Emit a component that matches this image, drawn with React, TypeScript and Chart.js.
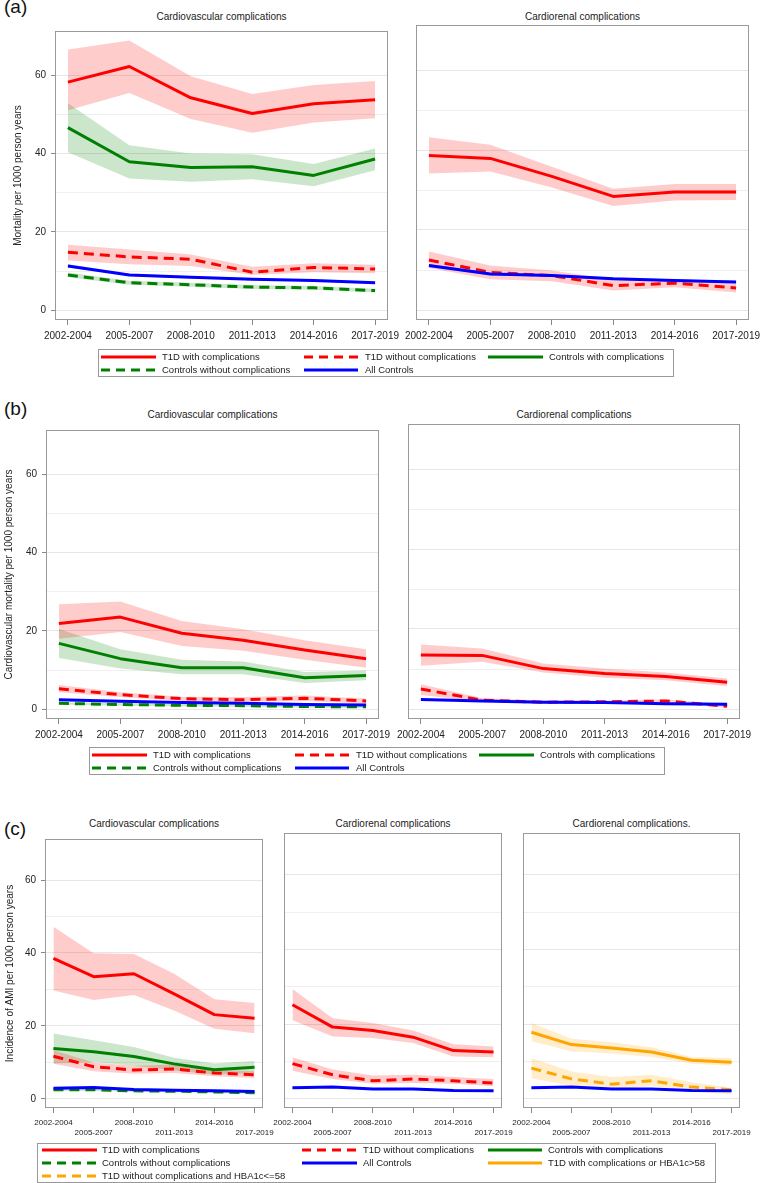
import React, { useEffect, useRef } from 'react';
import { Chart, registerables } from 'chart.js';

Chart.register(...registerables);

const FONT = "'Liberation Sans', Arial, Helvetica, sans-serif";

// ---------- categories & ticks ----------
const periods = ['2002-2004', '2005-2007', '2008-2010', '2011-2013', '2014-2016', '2017-2019'];
const yGridValues = [0, 10, 20, 30, 40, 50, 60];

// ---------- (a) Mortality, Cardiovascular ----------
const aCvT1dWith = [58.2, 62.2, 54.2, 50.2, 52.7, 53.7];
const aCvT1dWithHi = [66.5, 68.8, 59.7, 55.2, 57.5, 58.5];
const aCvT1dWithLo = [51.0, 55.4, 48.8, 45.3, 47.9, 49.0];
const aCvT1dWithout = [14.8, 13.6, 13.0, 9.7, 10.9, 10.5];
const aCvT1dWithoutHi = [16.7, 15.5, 14.2, 11.1, 12.0, 11.6];
const aCvT1dWithoutLo = [12.7, 11.7, 11.3, 9.0, 9.7, 9.4];
const aCvCtrlWith = [46.6, 37.9, 36.4, 36.6, 34.4, 38.6];
const aCvCtrlWithHi = [52.8, 42.1, 40.0, 39.8, 37.3, 41.3];
const aCvCtrlWithLo = [40.3, 33.6, 32.8, 33.4, 31.6, 35.7];
const aCvCtrlWithout = [9.0, 7.0, 6.5, 5.9, 5.7, 5.0];
const aCvCtrlWithoutHi = [9.6, 7.5, 7.0, 6.4, 6.2, 5.5];
const aCvCtrlWithoutLo = [8.4, 6.5, 6.0, 5.4, 5.2, 4.5];
const aCvAll = [11.3, 9.0, 8.4, 7.9, 7.6, 7.0];
const aCvAllHi = [11.7, 9.3, 8.7, 8.2, 7.9, 7.3];
const aCvAllLo = [10.9, 8.7, 8.1, 7.6, 7.3, 6.7];

// ---------- (a) Mortality, Cardiorenal ----------
const aCrT1dWith = [38.6, 37.9, 33.4, 28.4, 29.5, 29.5];
const aCrT1dWithHi = [43.2, 41.3, 35.8, 30.3, 31.5, 31.5];
const aCrT1dWithLo = [34.1, 34.6, 30.6, 26.0, 27.4, 27.5];
const aCrT1dWithout = [12.5, 9.4, 8.6, 6.1, 6.7, 5.5];
const aCrT1dWithoutHi = [14.6, 11.1, 9.9, 7.6, 7.7, 6.9];
const aCrT1dWithoutLo = [10.5, 7.7, 7.2, 4.9, 5.7, 4.4];
const aCrAll = [11.1, 9.0, 8.6, 7.8, 7.4, 7.0];
const aCrAllHi = [11.5, 9.3, 8.9, 8.1, 7.7, 7.3];
const aCrAllLo = [10.7, 8.7, 8.3, 7.5, 7.1, 6.7];

// ---------- (b) CV mortality, Cardiovascular ----------
const bCvT1dWith = [21.9, 23.5, 19.4, 17.6, 15.1, 12.9];
const bCvT1dWithHi = [26.8, 27.5, 22.5, 20.4, 17.6, 15.3];
const bCvT1dWithLo = [18.0, 19.7, 16.1, 14.9, 12.6, 10.6];
const bCvT1dWithout = [5.2, 3.7, 2.7, 2.4, 2.8, 2.1];
const bCvT1dWithoutHi = [6.2, 4.3, 3.2, 3.1, 3.5, 2.7];
const bCvT1dWithoutLo = [4.3, 3.1, 2.1, 1.9, 2.1, 1.4];
const bCvCtrlWith = [16.8, 12.9, 10.6, 10.6, 8.0, 8.6];
const bCvCtrlWithHi = [20.5, 15.3, 12.6, 12.2, 9.5, 9.9];
const bCvCtrlWithLo = [13.1, 10.4, 8.9, 8.9, 6.7, 7.4];
const bCvCtrlWithout = [1.5, 1.2, 1.0, 0.9, 0.7, 0.6];
const bCvCtrlWithoutHi = [1.8, 1.5, 1.3, 1.2, 1.0, 0.9];
const bCvCtrlWithoutLo = [1.2, 0.9, 0.7, 0.6, 0.4, 0.3];
const bCvAll = [2.4, 2.0, 1.7, 1.5, 1.2, 1.1];
const bCvAllHi = [2.6, 2.2, 1.9, 1.7, 1.4, 1.3];
const bCvAllLo = [2.2, 1.8, 1.5, 1.3, 1.0, 0.9];

// ---------- (b) CV mortality, Cardiorenal ----------
const bCrT1dWith = [13.5, 13.4, 10.1, 8.9, 8.1, 6.7];
const bCrT1dWithHi = [16.1, 15.1, 11.4, 10.1, 9.1, 7.6];
const bCrT1dWithLo = [10.8, 11.8, 9.1, 7.8, 7.2, 5.7];
const bCrT1dWithout = [5.0, 2.2, 1.7, 1.8, 2.0, 0.7];
const bCrT1dWithoutHi = [6.2, 2.7, 2.1, 2.1, 2.4, 1.2];
const bCrT1dWithoutLo = [3.5, 1.8, 1.4, 1.4, 1.4, 0.4];
const bCrAll = [2.4, 2.0, 1.7, 1.6, 1.3, 1.2];
const bCrAllHi = [2.6, 2.2, 1.9, 1.8, 1.5, 1.4];
const bCrAllLo = [2.2, 1.8, 1.5, 1.4, 1.1, 1.0];

// ---------- (c) AMI incidence, Cardiovascular ----------
const cCvT1dWith = [38.5, 33.5, 34.3, 28.8, 23.1, 22.1];
const cCvT1dWithHi = [47.2, 39.9, 39.7, 34.3, 27.3, 26.3];
const cCvT1dWithLo = [29.7, 27.1, 28.5, 24.2, 19.2, 18.0];
const cCvT1dWithout = [11.7, 8.8, 7.9, 8.2, 7.1, 6.6];
const cCvT1dWithoutHi = [13.3, 10.0, 9.1, 9.4, 8.0, 7.6];
const cCvT1dWithoutLo = [9.6, 7.6, 6.9, 7.1, 6.2, 5.7];
const cCvCtrlWith = [13.8, 12.9, 11.6, 9.6, 8.0, 8.7];
const cCvCtrlWithHi = [17.9, 16.1, 14.2, 11.3, 9.7, 10.4];
const cCvCtrlWithLo = [9.7, 10.1, 9.1, 7.8, 6.7, 7.1];
const cCvCtrlWithout = [2.5, 2.5, 2.2, 2.1, 1.9, 1.7];
const cCvCtrlWithoutHi = [2.8, 2.8, 2.5, 2.4, 2.2, 2.0];
const cCvCtrlWithoutLo = [2.2, 2.2, 1.9, 1.8, 1.6, 1.4];
const cCvAll = [2.9, 3.1, 2.6, 2.4, 2.2, 2.0];
const cCvAllHi = [3.1, 3.3, 2.8, 2.6, 2.4, 2.2];
const cCvAllLo = [2.7, 2.9, 2.4, 2.2, 2.0, 1.8];

// ---------- (c) AMI incidence, Cardiorenal ----------
const cCrT1dWith = [25.2, 19.2, 18.3, 16.5, 12.9, 12.5];
const cCrT1dWithHi = [29.4, 21.6, 20.3, 18.3, 14.6, 14.0];
const cCrT1dWithLo = [21.0, 16.7, 16.3, 14.9, 11.3, 11.1];
const cCrT1dWithout = [9.4, 6.4, 4.8, 5.3, 4.8, 4.2];
const cCrT1dWithoutHi = [11.1, 7.8, 6.2, 6.4, 5.8, 5.3];
const cCrT1dWithoutLo = [7.5, 5.3, 4.0, 4.2, 4.0, 3.3];
const cCrAll = [2.9, 3.1, 2.6, 2.6, 2.2, 2.1];
const cCrAllHi = [3.1, 3.3, 2.8, 2.8, 2.4, 2.3];
const cCrAllLo = [2.7, 2.9, 2.4, 2.4, 2.0, 1.9];

// ---------- (c) AMI incidence, Cardiorenal (HbA1c split) ----------
const cHbT1dWith = [17.8, 14.5, 13.6, 12.5, 10.3, 9.8];
const cHbT1dWithHi = [20.3, 16.1, 15.1, 13.8, 11.2, 10.9];
const cHbT1dWithLo = [15.4, 12.7, 12.1, 11.2, 9.4, 8.8];
const cHbT1dWithout = [8.2, 5.3, 3.9, 4.8, 3.1, 2.4];
const cHbT1dWithoutHi = [10.9, 7.3, 5.8, 6.4, 4.4, 2.9];
const cHbT1dWithoutLo = [5.5, 3.5, 2.4, 3.3, 2.0, 1.1];
const cHbAll = [2.9, 3.1, 2.6, 2.6, 2.2, 2.1];
const cHbAllHi = [3.1, 3.3, 2.8, 2.8, 2.4, 2.3];
const cHbAllLo = [2.7, 2.9, 2.4, 2.4, 2.0, 1.9];

// ---------- series styles ----------
type Style = { label: string; color: string; band: string; dashed: boolean };
const S: Record<string, Style> = {
  t1dWith: { label: 'T1D with complications', color: '#ff0000', band: 'rgba(255,0,0,0.2)', dashed: false },
  t1dWithout: { label: 'T1D without complications', color: '#ff0000', band: 'rgba(255,0,0,0.2)', dashed: true },
  ctrlWith: { label: 'Controls with complications', color: '#008000', band: 'rgba(0,128,0,0.2)', dashed: false },
  ctrlWithout: { label: 'Controls without complications', color: '#008000', band: 'rgba(0,128,0,0.2)', dashed: true },
  all: { label: 'All Controls', color: '#0000ff', band: 'rgba(0,0,255,0.2)', dashed: false },
  hbWith: { label: 'T1D with complications or HBA1c>58', color: '#ffa500', band: 'rgba(255,165,0,0.2)', dashed: false },
  hbWithout: { label: 'T1D without complications and HBA1c<=58', color: '#ffa500', band: 'rgba(255,165,0,0.2)', dashed: true },
};

type Series = { style: Style; v: number[]; hi: number[]; lo: number[] };
type Box = { l: number; t: number; r: number; b: number };
type PanelCfg = {
  box: Box; yw: number; yTitle?: string; yTitlePad?: number; xFont: number; alternate: boolean; series: Series[];
};

const PT = 5;
const PR = 22;

const panels: PanelCfg[] = [
  {
    box: { l: 55, t: 25, r: 388, b: 320 }, yw: 55, yTitle: 'Mortality per 1000 person years', yTitlePad: 12, xFont: 10, alternate: false,
    series: [
      { style: S.t1dWith, v: aCvT1dWith, hi: aCvT1dWithHi, lo: aCvT1dWithLo },
      { style: S.t1dWithout, v: aCvT1dWithout, hi: aCvT1dWithoutHi, lo: aCvT1dWithoutLo },
      { style: S.ctrlWith, v: aCvCtrlWith, hi: aCvCtrlWithHi, lo: aCvCtrlWithLo },
      { style: S.ctrlWithout, v: aCvCtrlWithout, hi: aCvCtrlWithoutHi, lo: aCvCtrlWithoutLo },
      { style: S.all, v: aCvAll, hi: aCvAllHi, lo: aCvAllLo },
    ],
  },
  {
    box: { l: 416, t: 25, r: 749, b: 320 }, yw: 24, xFont: 10, alternate: false,
    series: [
      { style: S.t1dWith, v: aCrT1dWith, hi: aCrT1dWithHi, lo: aCrT1dWithLo },
      { style: S.t1dWithout, v: aCrT1dWithout, hi: aCrT1dWithoutHi, lo: aCrT1dWithoutLo },
      { style: S.all, v: aCrAll, hi: aCrAllHi, lo: aCrAllLo },
    ],
  },
  {
    box: { l: 46, t: 424, r: 379, b: 719 }, yw: 46, yTitle: 'Cardiovascular mortality per 1000 person years', yTitlePad: 3, xFont: 10, alternate: false,
    series: [
      { style: S.t1dWith, v: bCvT1dWith, hi: bCvT1dWithHi, lo: bCvT1dWithLo },
      { style: S.t1dWithout, v: bCvT1dWithout, hi: bCvT1dWithoutHi, lo: bCvT1dWithoutLo },
      { style: S.ctrlWith, v: bCvCtrlWith, hi: bCvCtrlWithHi, lo: bCvCtrlWithLo },
      { style: S.ctrlWithout, v: bCvCtrlWithout, hi: bCvCtrlWithoutHi, lo: bCvCtrlWithoutLo },
      { style: S.all, v: bCvAll, hi: bCvAllHi, lo: bCvAllLo },
    ],
  },
  {
    box: { l: 408, t: 424, r: 740, b: 719 }, yw: 24, xFont: 10, alternate: false,
    series: [
      { style: S.t1dWith, v: bCrT1dWith, hi: bCrT1dWithHi, lo: bCrT1dWithLo },
      { style: S.t1dWithout, v: bCrT1dWithout, hi: bCrT1dWithoutHi, lo: bCrT1dWithoutLo },
      { style: S.all, v: bCrAll, hi: bCrAllHi, lo: bCrAllLo },
    ],
  },
  {
    box: { l: 45, t: 833, r: 263, b: 1108 }, yw: 45, yTitle: 'Incidence of AMI per 1000 person years', yTitlePad: 4, xFont: 8, alternate: true,
    series: [
      { style: S.t1dWith, v: cCvT1dWith, hi: cCvT1dWithHi, lo: cCvT1dWithLo },
      { style: S.t1dWithout, v: cCvT1dWithout, hi: cCvT1dWithoutHi, lo: cCvT1dWithoutLo },
      { style: S.ctrlWith, v: cCvCtrlWith, hi: cCvCtrlWithHi, lo: cCvCtrlWithLo },
      { style: S.ctrlWithout, v: cCvCtrlWithout, hi: cCvCtrlWithoutHi, lo: cCvCtrlWithoutLo },
      { style: S.all, v: cCvAll, hi: cCvAllHi, lo: cCvAllLo },
    ],
  },
  {
    box: { l: 284, t: 833, r: 502, b: 1108 }, yw: 24, xFont: 8, alternate: true,
    series: [
      { style: S.t1dWith, v: cCrT1dWith, hi: cCrT1dWithHi, lo: cCrT1dWithLo },
      { style: S.t1dWithout, v: cCrT1dWithout, hi: cCrT1dWithoutHi, lo: cCrT1dWithoutLo },
      { style: S.all, v: cCrAll, hi: cCrAllHi, lo: cCrAllLo },
    ],
  },
  {
    box: { l: 523, t: 833, r: 740, b: 1108 }, yw: 24, xFont: 8, alternate: true,
    series: [
      { style: S.hbWith, v: cHbT1dWith, hi: cHbT1dWithHi, lo: cHbT1dWithLo },
      { style: S.hbWithout, v: cHbT1dWithout, hi: cHbT1dWithoutHi, lo: cHbT1dWithoutLo },
      { style: S.all, v: cHbAll, hi: cHbAllHi, lo: cHbAllLo },
    ],
  },
];

const titles = [
  { text: 'Cardiovascular complications', l: 55, r: 388, y: 17 },
  { text: 'Cardiorenal complications', l: 416, r: 749, y: 17 },
  { text: 'Cardiovascular complications', l: 46, r: 379, y: 415 },
  { text: 'Cardiorenal complications', l: 408, r: 740, y: 415 },
  { text: 'Cardiovascular complications', l: 45, r: 263, y: 824 },
  { text: 'Cardiorenal complications', l: 284, r: 502, y: 824 },
  { text: 'Cardiorenal complications.', l: 523, r: 740, y: 824 },
];

const letters = [
  { text: '(a)', top: -3 },
  { text: '(b)', top: 399 },
  { text: '(c)', top: 819 },
];

type LegendCfg = {
  box: { l: number; t: number; w: number; h: number };
  cols: { lx: number; lw: number; tx: number }[];
  rows: number[];
  items: { style: Style; col: number; row: number }[];
};

const legends: LegendCfg[] = [
  {
    box: { l: 98, t: 349, w: 576, h: 28 },
    cols: [{ lx: 101, lw: 55, tx: 162 }, { lx: 304, lw: 54, tx: 365 }, { lx: 488, lw: 55, tx: 549 }],
    rows: [357, 370],
    items: [
      { style: S.t1dWith, col: 0, row: 0 }, { style: S.t1dWithout, col: 1, row: 0 }, { style: S.ctrlWith, col: 2, row: 0 },
      { style: S.ctrlWithout, col: 0, row: 1 }, { style: S.all, col: 1, row: 1 },
    ],
  },
  {
    box: { l: 89, t: 747, w: 576, h: 28 },
    cols: [{ lx: 92, lw: 55, tx: 153 }, { lx: 295, lw: 54, tx: 356 }, { lx: 479, lw: 55, tx: 540 }],
    rows: [755, 768],
    items: [
      { style: S.t1dWith, col: 0, row: 0 }, { style: S.t1dWithout, col: 1, row: 0 }, { style: S.ctrlWith, col: 2, row: 0 },
      { style: S.ctrlWithout, col: 0, row: 1 }, { style: S.all, col: 1, row: 1 },
    ],
  },
  {
    box: { l: 37, t: 1143, w: 679, h: 40 },
    cols: [{ lx: 42, lw: 55, tx: 102 }, { lx: 302, lw: 55, tx: 363 }, { lx: 488, lw: 54, tx: 548 }],
    rows: [1150, 1163, 1176],
    items: [
      { style: S.t1dWith, col: 0, row: 0 }, { style: S.t1dWithout, col: 1, row: 0 }, { style: S.ctrlWith, col: 2, row: 0 },
      { style: S.ctrlWithout, col: 0, row: 1 }, { style: S.all, col: 1, row: 1 }, { style: S.hbWith, col: 2, row: 1 },
      { style: S.hbWithout, col: 0, row: 2 },
    ],
  },
];

const framePlugin = {
  id: 'frame',
  afterDraw(chart: any) {
    const { ctx, chartArea: a } = chart;
    ctx.save();
    ctx.strokeStyle = '#999999';
    ctx.lineWidth = 1;
    ctx.strokeRect(Math.round(a.left) + 0.5, Math.round(a.top) + 0.5, Math.round(a.right - a.left) - 1, Math.round(a.bottom - a.top) - 1);
    ctx.restore();
  },
};

function Panel({ cfg }: { cfg: PanelCfg }) {
  const ref = useRef<HTMLCanvasElement | null>(null);
  const { box, yw } = cfg;
  const XH = cfg.alternate ? 40 : 30;
  const W = yw + (box.r - box.l) + PR;
  const H = PT + (box.b - box.t) + XH;

  useEffect(() => {
    if (!ref.current) return;
    const toPts = (arr: number[]) => arr.map((y, x) => ({ x, y }));
    const datasets: any[] = [];
    cfg.series.forEach((s) => {
      datasets.push({
        data: toPts(s.hi), borderColor: 'rgba(0,0,0,0)', borderWidth: 0, pointRadius: 0, fill: false,
        backgroundColor: s.style.band, order: 100, tension: 0,
      });
      datasets.push({
        data: toPts(s.lo), borderColor: 'rgba(0,0,0,0)', borderWidth: 0, pointRadius: 0, fill: '-1',
        backgroundColor: s.style.band, order: 100, tension: 0,
      });
    });
    cfg.series.forEach((s, i) => {
      datasets.push({
        data: toPts(s.v), borderColor: s.style.color, borderWidth: 3, borderDash: s.style.dashed ? [10, 6] : [],
        pointRadius: 0, fill: false, order: 50 - i, tension: 0, borderCapStyle: 'butt', borderJoinStyle: 'round',
      });
    });
    const hasY = !!cfg.yTitle;
    const chart = new Chart(ref.current, {
      type: 'line',
      data: { datasets },
      options: {
        animation: false,
        responsive: false,
        maintainAspectRatio: false,
        devicePixelRatio: 1,
        events: [],
        layout: { padding: { left: 0, top: PT, right: PR, bottom: 0 } },
        plugins: { legend: { display: false }, tooltip: { enabled: false }, title: { display: false } },
        scales: {
          x: {
            type: 'linear', min: -0.21, max: 5.21,
            afterBuildTicks: (s: any) => { s.ticks = periods.map((_, i) => ({ value: i })); },
            afterFit: (s: any) => { s.height = XH; },
            grid: { drawOnChartArea: false, drawTicks: true, tickLength: 5, tickColor: '#888888', tickWidth: 1 },
            border: { display: false },
            ticks: {
              autoSkip: false, maxRotation: 0, minRotation: 0, padding: cfg.alternate ? 4 : 5, color: '#222222',
              font: { family: FONT, size: cfg.xFont, lineHeight: cfg.alternate ? 1.35 : 1.2 },
              callback: (v: any) => {
                const i = Math.round(Number(v));
                const t = periods[i] ?? '';
                return cfg.alternate && i % 2 === 1 ? ['', t] : t;
              },
            },
          },
          y: {
            type: 'linear', min: -2.5, max: 71.25,
            afterBuildTicks: (s: any) => { s.ticks = yGridValues.map((v) => ({ value: v })); },
            afterFit: (s: any) => { s.width = yw; },
            grid: {
              color: (c: any) => (c.tick && c.tick.value % 20 === 0 ? '#e6e6e6' : '#efefef'),
              drawTicks: hasY, tickLength: 4, tickWidth: 1,
              tickColor: (c: any) => (c.tick && c.tick.value % 20 === 0 ? '#888888' : 'rgba(0,0,0,0)'),
            },
            border: { display: false },
            ticks: {
              display: hasY, padding: 5, color: '#222222', font: { family: FONT, size: 10 },
              callback: (v: any) => (Number(v) % 20 === 0 ? String(v) : ''),
            },
            title: {
              display: hasY, text: cfg.yTitle || '', color: '#222222', font: { family: FONT, size: 10 },
              padding: { top: cfg.yTitlePad || 0, bottom: 0 },
            },
          },
        },
      } as any,
      plugins: [framePlugin],
    });
    return () => chart.destroy();
  }, []);

  return (
    <canvas
      ref={ref}
      width={W}
      height={H}
      style={{ position: 'absolute', left: box.l - yw, top: box.t - PT, width: W, height: H }}
    />
  );
}

function Legend({ cfg }: { cfg: LegendCfg }) {
  return (
    <>
      <div
        style={{
          position: 'absolute', left: cfg.box.l, top: cfg.box.t, width: cfg.box.w, height: cfg.box.h,
          border: '1px solid #999999', boxSizing: 'border-box',
        }}
      />
      {cfg.items.map((it, k) => {
        const c = cfg.cols[it.col];
        const y = cfg.rows[it.row];
        return (
          <React.Fragment key={k}>
            <svg
              width={c.lw}
              height={6}
              style={{ position: 'absolute', left: c.lx, top: y - 3, overflow: 'visible' }}
            >
              <line
                x1={0} y1={3} x2={c.lw} y2={3} stroke={it.style.color} strokeWidth={3}
                strokeDasharray={it.style.dashed ? '9 6' : undefined}
              />
            </svg>
            <div
              style={{
                position: 'absolute', left: c.tx, top: y - 6, height: 12, lineHeight: '12px', fontSize: 9.5,
                fontFamily: FONT, color: '#222222', whiteSpace: 'nowrap',
              }}
            >
              {it.style.label}
            </div>
          </React.Fragment>
        );
      })}
    </>
  );
}

export default function App() {
  return (
    <div
      style={{
        position: 'absolute', left: 0, top: 0, width: 762, height: 1183, overflow: 'hidden',
        background: '#ffffff', fontFamily: FONT,
      }}
    >
      {letters.map((l, i) => (
        <div
          key={'l' + i}
          style={{ position: 'absolute', left: 4, top: l.top, fontSize: 19, lineHeight: '19px', color: '#111111', fontFamily: FONT }}
        >
          {l.text}
        </div>
      ))}
      {titles.map((t, i) => (
        <div
          key={'t' + i}
          style={{
            position: 'absolute', left: t.l, width: t.r - t.l, top: t.y - 6, height: 12, lineHeight: '12px',
            textAlign: 'center', fontSize: 10, color: '#222222', fontFamily: FONT, whiteSpace: 'nowrap',
          }}
        >
          {t.text}
        </div>
      ))}
      {panels.map((p, i) => (
        <Panel key={'p' + i} cfg={p} />
      ))}
      {legends.map((lg, i) => (
        <Legend key={'g' + i} cfg={lg} />
      ))}
    </div>
  );
}
